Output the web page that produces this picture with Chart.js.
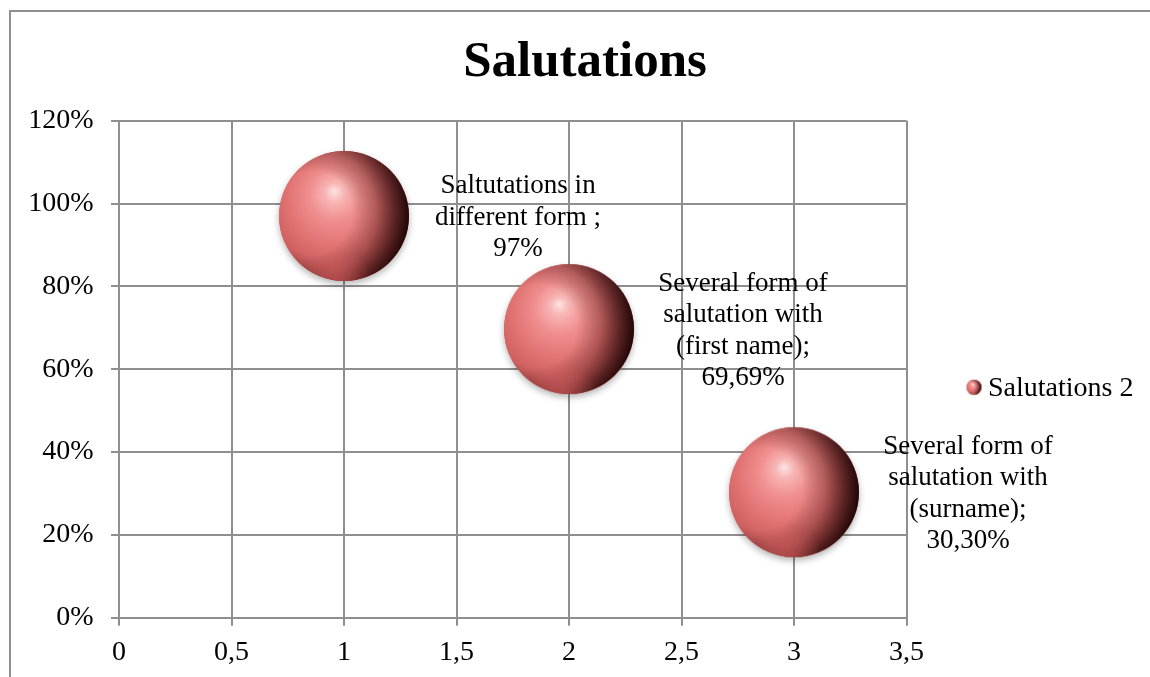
<!DOCTYPE html>
<html>
<head>
<meta charset="utf-8">
<title>Salutations</title>
<script src="https://cdn.jsdelivr.net/npm/chart.js@4"></script>
<style>
  html, body { margin: 0; padding: 0; background: #fff; }
  #wrap { width: 1150px; height: 677px; }
</style>
</head>
<body>
<div id="wrap"><canvas id="chart" width="1150" height="677"></canvas></div>
<script>
// Data
const seriesName = 'Salutations 2';
const categoryLines = [
  ['Saltutations in', 'different form '],
  ['Several form of', 'salutation with', '(first name)'],
  ['Several form of', 'salutation with', '(surname)']
];
const xValues = [1, 2, 3];
const shares = [0.97, 0.6969, 0.303];
const bubbleSizes = [1, 1, 1];

// Styling constants
const FONT = "'Liberation Serif', 'Times New Roman', serif";
const GRID = '#8f8f8f';
const BUBBLE_RADIUS = 65;

function pct(v) {
  const p = Math.round(v * 10000) / 100;
  return (Number.isInteger(p) ? String(p) : p.toFixed(2)).replace('.', ',') + '%';
}

// Shaded sphere sprite used as the point style
const sphereCache = {};
function sphere(R) {
  const key = R.toFixed(2);
  if (sphereCache[key]) return sphereCache[key];
  const M = Math.ceil(R * 0.18) + 3;
  const S = Math.ceil(2 * (R + M));
  const c = document.createElement('canvas');
  c.width = c.height = S;
  const g = c.getContext('2d');
  const cx = S / 2, cy = S / 2;

  // soft drop shadow
  g.save();
  g.shadowColor = 'rgba(0,0,0,0.3)';
  g.shadowBlur = R * 0.12;
  g.shadowOffsetY = R * 0.05;
  g.beginPath(); g.arc(cx, cy, R, 0, Math.PI * 2);
  g.fillStyle = '#d86a6a'; g.fill();
  g.restore();

  g.save();
  g.beginPath(); g.arc(cx, cy, R, 0, Math.PI * 2); g.clip();

  // body with highlight
  let gr = g.createRadialGradient(cx - 0.15 * R, cy - 0.38 * R, 0, cx - 0.1 * R, cy - 0.2 * R, 1.25 * R);
  gr.addColorStop(0, '#fde4e4');
  gr.addColorStop(0.12, '#f8b4b4');
  gr.addColorStop(0.32, '#f08e8e');
  gr.addColorStop(0.58, '#e27474');
  gr.addColorStop(0.82, '#cf6060');
  gr.addColorStop(1, '#ad4848');
  g.fillStyle = gr;
  g.fillRect(0, 0, S, S);

  // shade deepening towards the right edge
  gr = g.createRadialGradient(cx - 0.5 * R, cy - 0.05 * R, 0, cx - 0.5 * R, cy - 0.05 * R, 1.5 * R);
  gr.addColorStop(0, 'rgba(30,0,0,0)');
  gr.addColorStop(0.42, 'rgba(30,0,0,0)');
  gr.addColorStop(0.66, 'rgba(40,5,5,0.28)');
  gr.addColorStop(0.86, 'rgba(30,3,3,0.68)');
  gr.addColorStop(1, 'rgba(20,0,0,0.92)');
  g.fillStyle = gr;
  g.fillRect(0, 0, S, S);

  // reflected light along the bottom
  gr = g.createRadialGradient(cx - 0.1 * R, cy + 1.05 * R, 0, cx - 0.1 * R, cy + 1.05 * R, 0.55 * R);
  gr.addColorStop(0, 'rgba(235,105,105,0.55)');
  gr.addColorStop(1, 'rgba(235,105,105,0)');
  g.fillStyle = gr;
  g.fillRect(0, 0, S, S);
  g.restore();

  sphereCache[key] = c;
  return c;
}

// White page with the frame line
const framePlugin = {
  id: 'frame',
  beforeDraw(chart) {
    const ctx = chart.ctx;
    ctx.save();
    ctx.fillStyle = '#fff';
    ctx.fillRect(0, 0, chart.width, chart.height);
    ctx.strokeStyle = GRID;
    ctx.lineWidth = 2;
    ctx.strokeRect(10, 11, chart.width + 50, chart.height + 50);
    ctx.restore();
  }
};

// Category name and value next to each bubble
const bubbleLabels = {
  id: 'bubbleLabels',
  afterDatasetsDraw(chart) {
    const ctx = chart.ctx;
    const meta = chart.getDatasetMeta(0);
    ctx.save();
    ctx.font = '27px ' + FONT;
    ctx.fillStyle = '#000';
    ctx.textAlign = 'center';
    ctx.textBaseline = 'alphabetic';
    const lh = 31.5;
    meta.data.forEach((el, i) => {
      const lines = categoryLines[i].slice();
      lines[lines.length - 1] += ';';
      lines.push(pct(shares[i]));
      const n = lines.length;
      const x = el.x + 174;
      lines.forEach((t, k) => {
        ctx.fillText(t, x, el.y + (k - (n - 1) / 2) * lh + 9);
      });
    });
    ctx.restore();
  }
};

// Series key on the right
const seriesKey = {
  id: 'seriesKey',
  afterDraw(chart) {
    const ctx = chart.ctx;
    const a = chart.chartArea;
    const mx = a.right + 67.5, my = a.top + 266.5;
    const img = sphere(7.5);
    ctx.drawImage(img, mx - img.width / 2, my - img.height / 2);
    ctx.save();
    ctx.font = '28px ' + FONT;
    ctx.fillStyle = '#000';
    ctx.textAlign = 'left';
    ctx.textBaseline = 'middle';
    ctx.fillText(seriesName, mx + 14, my + 1);
    ctx.restore();
  }
};

// fixed axis sizes; edge labels may overhang the plot area
function fixSize(prop, value) {
  return (s) => {
    s[prop] = value;
    s.paddingTop = s.paddingBottom = s.paddingLeft = s.paddingRight = 0;
  };
}

new Chart(document.getElementById('chart'), {
  type: 'bubble',
  data: {
    datasets: [{
      label: seriesName,
      data: xValues.map((x, i) => ({ x: x, y: shares[i], r: bubbleSizes[i] * BUBBLE_RADIUS })),
      pointStyle: (ctx) => sphere(ctx.raw ? ctx.raw.r : BUBBLE_RADIUS),
      backgroundColor: '#e37777',
      borderWidth: 0
    }]
  },
  options: {
    responsive: false,
    animation: false,
    events: [],
    layout: { autoPadding: false, padding: { left: 20, right: 0, top: 0, bottom: 0 } },
    plugins: {
      legend: { display: false },
      tooltip: { enabled: false },
      title: {
        display: true,
        text: 'Salutations',
        color: '#000',
        font: { family: FONT, size: 51, weight: 'bold', lineHeight: 1.2 },
        padding: { top: 32.5, bottom: 27 }
      }
    },
    scales: {
      x: {
        type: 'linear',
        min: 0, max: 3.5,
        ticks: {
          stepSize: 0.5,
          color: '#000',
          padding: 10,
          font: { family: FONT, size: 28 },
          callback: (v) => String(v).replace('.', ',')
        },
        grid: { color: GRID, lineWidth: 2, tickLength: 8, tickColor: GRID },
        border: { color: GRID, width: 2 },
        afterFit: fixSize('height', 59.3)
      },
      y: {
        type: 'linear',
        min: 0, max: 1.2,
        ticks: {
          stepSize: 0.2,
          color: '#000',
          padding: 17.5,
          font: { family: FONT, size: 28 },
          callback: (v) => Math.round(v * 100) + '%'
        },
        grid: { color: GRID, lineWidth: 2, tickLength: 8, tickColor: GRID },
        border: { color: GRID, width: 2 },
        afterFit: fixSize('width', 99)
      },
      keySpace: {
        type: 'linear',
        position: 'right',
        display: true,
        grid: { display: false, drawTicks: false },
        border: { display: false },
        ticks: { display: false },
        afterFit: fixSize('width', 243.5)
      }
    }
  },
  plugins: [framePlugin, bubbleLabels, seriesKey]
});
</script>
</body>
</html>
